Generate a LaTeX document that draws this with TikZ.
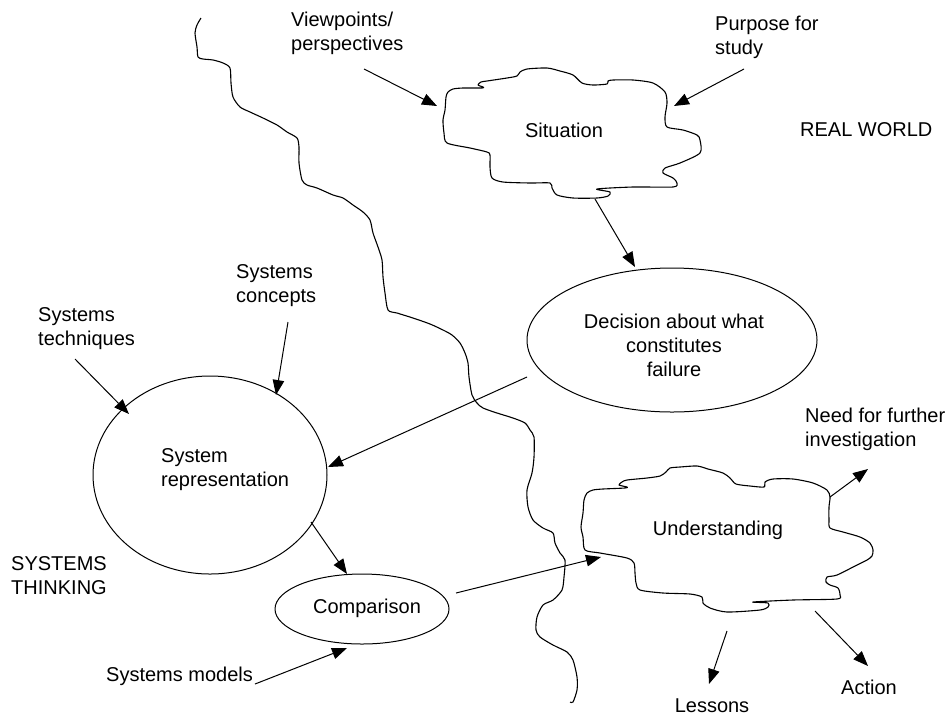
\documentclass[tikz,border=0pt]{standalone}
\usepackage{fontspec}
\setmainfont{Liberation Sans}
\usetikzlibrary{arrows.meta,shapes.geometric}
\begin{document}
\begin{tikzpicture}[x=1pt,y=-1pt,
  lbl/.style={font=\fontsize{20}{24}\selectfont, inner sep=0pt, align=left},
  lblc/.style={font=\fontsize{20}{24}\selectfont, inner sep=0pt, align=center},
  ell/.style={draw, ellipse, line width=1pt, inner sep=0pt},
  arr/.style={-{Triangle[length=15pt,width=11.5pt]}, line width=1pt},
  wavy/.style={line width=1.1pt, line join=round}
]
\useasboundingbox (0,0) rectangle (949,716);

% boundary line between real world and systems thinking
\draw[wavy] plot[smooth, tension=0.45] coordinates {
(201,18) (197,25) (195,33) (197,47) (198,57) (203,59) (213,60) (223,63) (230,68) (231,83) (233,97) (240,107) (250,112) (263,118) (277,125) (287,132) (297,138) (299,147) (299,163) (302,180) (307,185) (317,188) (333,195) (343,198) (353,205) (363,212) (370,220) (373,233) (378,247) (382,260) (383,277) (385,293) (388,310) (397,313) (413,318) (430,324) (443,330) (452,335) (460,343) (465,353) (468,363) (469,377) (472,395) (477,403) (483,408) (497,413) (513,418) (525,423) (530,430) (534,437) (534,457) (532,473) (527,490) (528,507) (533,520) (543,528) (553,533) (555,543) (560,553) (565,560) (564,577) (562,590) (553,600) (543,605) (537,617) (536,630) (540,637) (553,645) (567,652) (573,660) (577,677) (577,690) (573,702) (570,702)};

% Situation cloud
\draw[wavy] plot[smooth cycle, tension=0.45] coordinates {
(446,97) (448,92) (453,89) (463,88) (482,88) (483,87) (478,85) (481,82) (487,81) (507,78) (517,76) (520,72) (527,69) (547,68) (560,71) (573,75) (582,83) (593,85) (607,84) (608,81) (613,80) (633,80) (653,83) (665,92) (667,103) (665,117) (667,127) (683,130) (697,135) (700,140) (700,153) (680,163) (665,168) (663,173) (673,178) (677,183) (673,187) (633,187) (597,189) (610,192) (608,196) (597,198) (573,198) (557,195) (552,188) (550,183) (530,183) (503,182) (492,178) (490,167) (490,155) (487,152) (470,148) (447,143) (444,133) (443,120) (445,110)};

% Understanding cloud
\draw[wavy] plot[smooth cycle, tension=0.45] coordinates {
(585,550) (583,537) (581,527) (583,513) (584,500) (587,493) (593,490) (603,489) (625,488) (627,487) (619,485) (622,482) (627,480) (647,478) (660,476) (666,472) (670,468) (680,467) (697,466) (708,469) (723,473) (730,478) (736,484) (750,486) (764,487) (765,482) (773,479) (793,479) (813,483) (827,490) (830,497) (829,507) (829,520) (830,528) (843,532) (860,537) (870,543) (873,550) (872,556) (867,560) (857,565) (837,575) (827,577) (826,582) (830,585) (838,588) (840,595) (837,599) (793,600) (753,602) (768,603) (768,607) (760,610) (727,612) (710,608) (703,603) (702,597) (690,594) (663,593) (640,590) (636,583) (635,573) (634,563) (627,558) (600,553)};

% ellipses
\node[ell, minimum width=234pt, minimum height=198pt] (sr) at (210,475) {};
\node[ell, minimum width=174pt, minimum height=70pt] (comp) at (362,609) {};
\node[ell, minimum width=290pt, minimum height=144pt] (dec) at (672,340) {};

% texts (base anchor of a multi-line node = baseline of its last line)
\node[lbl, anchor=base west] (vp) at (291,50) {Viewpoints/\\perspectives};
\node[lbl, anchor=base west] (pur) at (715,54) {Purpose for\\study};
\node[lbl, anchor=base west] (rw) at (800,136) {REAL WORLD};
\node[lbl, anchor=base] (sitT) at (564,137) {Situation};
\node[lblc, anchor=base] (decT) at (674,376) {Decision about what\\constitutes\\failure};
\node[lbl, anchor=base west] (conc) at (236,302) {Systems\\concepts};
\node[lbl, anchor=base west] (tech) at (38,345) {Systems\\techniques};
\node[lbl, anchor=base west] (srT) at (161,486) {System\\representation};
\node[lbl, anchor=base west] (st) at (11,594) {SYSTEMS\\THINKING};
\node[lbl, anchor=base] (compT) at (367,613) {Comparison};
\node[lbl, anchor=base west] (mod) at (106,681) {Systems models};
\node[lbl, anchor=base] (undT) at (718,535) {Understanding};
\node[lbl, anchor=base west] (need) at (805,446) {Need for further\\investigation};
\node[lbl, anchor=base] (les) at (712,712) {Lessons};
\node[lbl, anchor=base] (act) at (869,694) {Action};

% connector end points
\coordinate (vpE) at (364,69);    \coordinate (sitW) at (437,106);
\coordinate (purE) at (744,69);   \coordinate (sitE) at (674,106);
\coordinate (sitS) at (595,199);  \coordinate (decN) at (635,267);
\coordinate (concE) at (288,322); \coordinate (srN) at (276,395);
\coordinate (techE) at (75,359);  \coordinate (srNW) at (129,414);
\coordinate (decW) at (527,377);  \coordinate (srE) at (328,467);
\coordinate (srSE) at (311,522);  \coordinate (compN) at (347,574);
\coordinate (modE) at (255,684);  \coordinate (compS) at (347,648);
\coordinate (compE) at (456,593); \coordinate (undW) at (601,557);
\coordinate (undNE) at (830,497); \coordinate (needE) at (868,469);
\coordinate (undS) at (727,631);  \coordinate (lesE) at (709,684);
\coordinate (undSE) at (815,611); \coordinate (actE) at (868,666);

\draw[arr] (vpE) -- (sitW);
\draw[arr] (purE) -- (sitE);
\draw[arr] (sitS) -- (decN);
\draw[arr] (concE) -- (srN);
\draw[arr] (techE) -- (srNW);
\draw[arr] (decW) -- (srE);
\draw[arr] (srSE) -- (compN);
\draw[arr] (modE) -- (compS);
\draw[arr] (compE) -- (undW);
\draw[arr] (undNE) -- (needE);
\draw[arr] (undS) -- (lesE);
\draw[arr] (undSE) -- (actE);
\end{tikzpicture}
\end{document}
